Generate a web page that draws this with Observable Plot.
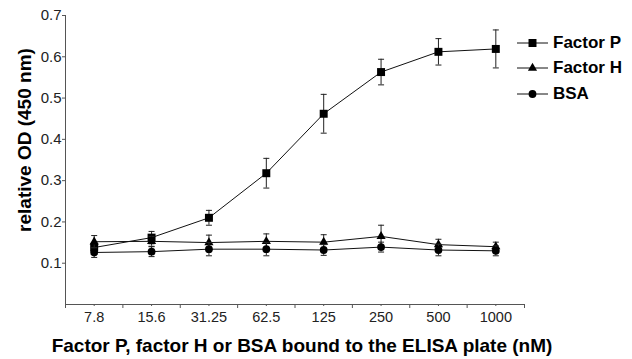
<!DOCTYPE html>
<html>
<head>
<meta charset="utf-8">
<script src="https://cdn.jsdelivr.net/npm/d3@7"></script>
<script src="https://cdn.jsdelivr.net/npm/@observablehq/plot@0.6"></script>
<style>
  html, body { margin: 0; padding: 0; background: #fff; }
  #wrap { position: relative; width: 632px; height: 359px; font-family: "Liberation Sans", Arial, sans-serif; }
  #legend { position: absolute; left: 517px; top: 30px; }
  .row { display: flex; align-items: center; height: 25.5px; }
  .row span { font-weight: bold; font-size: 17px; color: #000; margin-left: 5px; }
  svg text { font-family: "Liberation Sans", Arial, sans-serif; }
</style>
</head>
<body>
<div id="wrap"><div id="legend"></div></div>
<script>
const categories = ["7.8", "15.6", "31.25", "62.5", "125", "250", "500", "1000"];
const factorP    = [0.138, 0.162, 0.210, 0.318, 0.462, 0.563, 0.612, 0.619];
const factorPErr = [0.012, 0.015, 0.018, 0.036, 0.047, 0.031, 0.032, 0.046];
const factorH    = [0.152, 0.153, 0.150, 0.153, 0.151, 0.165, 0.145, 0.140];
const factorHErr = [0.015, 0.012, 0.018, 0.018, 0.018, 0.027, 0.013, 0.011];
const bsa        = [0.126, 0.128, 0.134, 0.134, 0.132, 0.139, 0.132, 0.130];
const bsaErr     = [0.012, 0.012, 0.016, 0.016, 0.013, 0.012, 0.014, 0.012];
const yTicks = [0.1, 0.2, 0.3, 0.4, 0.5, 0.6, 0.7];
const seriesNames = ["Factor P", "Factor H", "BSA"];
const seriesSymbols = ["square", "triangle", "circle"];
const seriesSizes = [4.5, 3.4, 3.9];
const yLabel = "relative OD (450 nm)";
const xLabel = "Factor P, factor H or BSA bound to the ELISA plate (nM)";

const allSeries = [factorP, factorH, bsa];
const allErr = [factorPErr, factorHErr, bsaErr];
const rows = [];
allSeries.forEach((vals, s) => vals.forEach((v, i) => rows.push({
  series: seriesNames[s], i, v, lo: v - allErr[s][i], hi: v + allErr[s][i]
})));

const capSymbol = { draw(ctx, size) { ctx.moveTo(-3, 0); ctx.lineTo(3, 0); } };
const edges = d3.range(categories.length + 1).map(k => k - 0.5);

const marks = [
  Plot.axisX(edges, { tickSize: 4, tickFormat: () => "", stroke: "#555", label: null }),
  Plot.axisX(d3.range(categories.length), { tickSize: 2, tickPadding: 5, tickFormat: i => categories[i], fontSize: 14.5, fill: "#222", stroke: "#555", label: null }),
  Plot.axisY(yTicks, { tickSize: 3, tickPadding: 1, tickFormat: d => d.toFixed(1), fontSize: 15, fill: "#222", stroke: "#555", label: null }),
  Plot.ruleX([-0.5], { stroke: "#555" }),
  Plot.ruleY([0], { stroke: "#555" }),
];
seriesNames.forEach((name, s) => {
  const data = rows.filter(r => r.series === name);
  marks.push(Plot.line(data, { x: "i", y: "v", stroke: "#111", strokeWidth: 1 }));
  marks.push(Plot.ruleX(data, { x: "i", y1: "lo", y2: "hi", stroke: "#222", strokeWidth: 1 }));
  marks.push(Plot.dot(data, { x: "i", y: "lo", symbol: capSymbol, stroke: "#222", strokeWidth: 1, r: 1 }));
  marks.push(Plot.dot(data, { x: "i", y: "hi", symbol: capSymbol, stroke: "#222", strokeWidth: 1, r: 1 }));
  marks.push(Plot.dot(data, { x: "i", y: "v", symbol: seriesSymbols[s], r: seriesSizes[s], fill: "#000", stroke: "none" }));
});
marks.push(Plot.text([yLabel], { frameAnchor: "left", textAnchor: "middle", lineAnchor: "middle", dx: -41, dy: -20, rotate: -90, fontSize: 19, fontWeight: "bold", fill: "#000" }));
marks.push(Plot.text([xLabel], { frameAnchor: "bottom", textAnchor: "middle", lineAnchor: "middle", dy: 41, dx: 7, fontSize: 19, fontWeight: "bold", fill: "#000" }));

const chart = Plot.plot({
  width: 632,
  height: 359,
  marginLeft: 65,
  marginRight: 108,
  marginTop: 15,
  marginBottom: 55,
  style: { background: "#fff", color: "#222", overflow: "visible" },
  x: { type: "linear", domain: [-0.5, categories.length - 0.5], axis: null },
  y: { domain: [0, 0.7], axis: null },
  marks
});
document.getElementById("wrap").prepend(chart);

const legend = document.getElementById("legend");
seriesNames.forEach((name, s) => {
  const row = document.createElement("div");
  row.className = "row";
  const sym = d3.symbol(s === 0 ? d3.symbolSquare : s === 1 ? d3.symbolTriangle : d3.symbolCircle, Math.PI * seriesSizes[s] * seriesSizes[s])();
  row.innerHTML = `<svg width="31" height="12"><line x1="0" x2="31" y1="6" y2="6" stroke="#111"/><path d="${sym}" transform="translate(15.5,6)" fill="#000"/></svg><span>${name}</span>`;
  legend.appendChild(row);
});
</script>
</body>
</html>
